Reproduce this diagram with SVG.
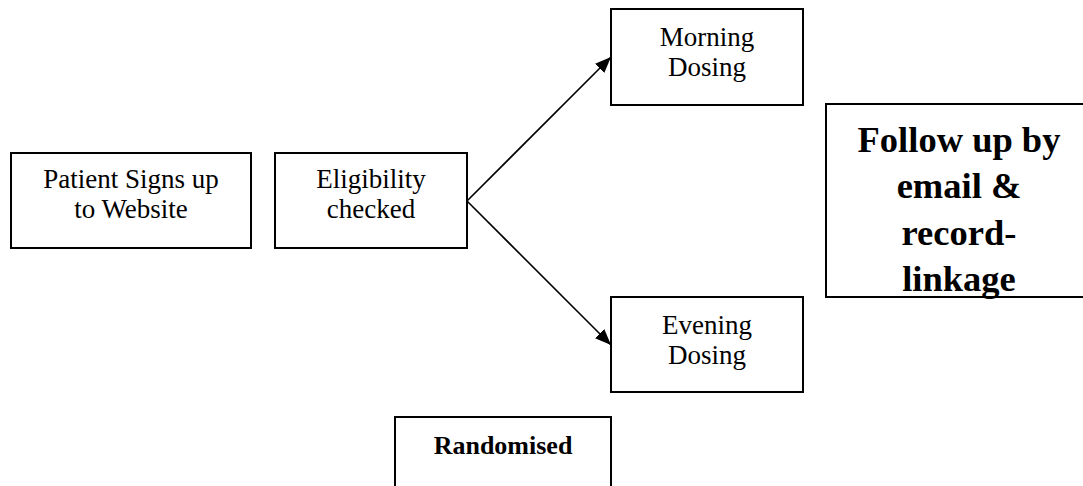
<svg xmlns="http://www.w3.org/2000/svg" width="1083" height="486" viewBox="0 0 1083 486">
<style>
.box{fill:#fff;stroke:#000;stroke-width:2}
.t{font-family:"Liberation Serif","Times New Roman",serif;font-size:27px;fill:#000;text-anchor:middle}
.b{font-weight:bold}
.r{font-size:26px}
.big{font-size:36.5px}
.conn{stroke:#000;stroke-width:1.6;fill:none;marker-end:url(#ah)}
</style>
<defs>
<marker id="ah" markerWidth="16" markerHeight="13" refX="16" refY="6.5" orient="auto" markerUnits="userSpaceOnUse" viewBox="0 0 16 13">
<path d="M0,0 L16,6.5 L0,13 Z" fill="#000"/>
</marker>
</defs>
<rect width="1083" height="486" fill="#fff"/>
<g id="patient">
<rect class="box" x="11" y="153" width="240" height="95"/>
<text class="t" x="131" y="188">Patient Signs up</text>
<text class="t" x="131" y="218">to Website</text>
</g>
<g id="eligibility">
<rect class="box" x="275" y="153" width="192" height="95"/>
<text class="t" x="371" y="188">Eligibility</text>
<text class="t" x="371" y="218">checked</text>
</g>
<g id="morning">
<rect class="box" x="611" y="9" width="192" height="96"/>
<text class="t" x="707" y="46">Morning</text>
<text class="t" x="707" y="76">Dosing</text>
</g>
<g id="evening">
<rect class="box" x="611" y="297" width="192" height="95"/>
<text class="t" x="707" y="334">Evening</text>
<text class="t" x="707" y="364">Dosing</text>
</g>
<g id="followup">
<rect class="box" x="826" y="104" width="266" height="193"/>
<text class="t b big" x="959" y="152">Follow up by</text>
<text class="t b big" x="959" y="198">email &amp;</text>
<text class="t b big" x="959" y="245">record-</text>
<text class="t b big" x="959" y="291">linkage</text>
</g>
<g id="randomised">
<rect class="box" x="395" y="417" width="216" height="90"/>
<text class="t b r" x="503" y="454">Randomised</text>
</g>
<g id="connectors">
<line class="conn" x1="467" y1="201" x2="611" y2="57"/>
<line class="conn" x1="467" y1="201" x2="611" y2="345"/>
</g>
</svg>
